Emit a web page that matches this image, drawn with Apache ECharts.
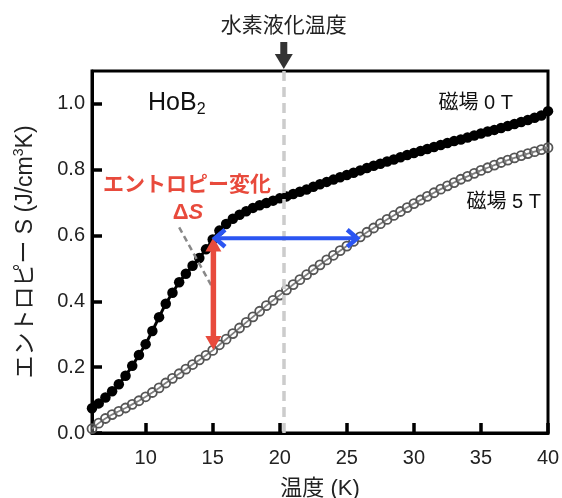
<!DOCTYPE html>
<html>
<head>
<meta charset="utf-8">
<script src="https://cdn.jsdelivr.net/npm/echarts@6/dist/echarts.min.js"></script>
<style>html,body{margin:0;padding:0;background:#fff}#c{width:562px;height:498px}</style>
</head>
<body>
<div id="c"></div>
<script>
// ---- data ----
const temps = [6.0,6.5,7.0,7.5,8.0,8.5,9.0,9.5,10.0,10.5,11.0,11.5,12.0,12.5,13.0,13.5,14.0,14.5,15.0,15.5,16.0,16.5,17.0,17.5,18.0,18.5,19.0,19.5,20.0,20.5,21.0,21.5,22.0,22.5,23.0,23.5,24.0,24.5,25.0,25.5,26.0,26.5,27.0,27.5,28.0,28.5,29.0,29.5,30.0,30.5,31.0,31.5,32.0,32.5,33.0,33.5,34.0,34.5,35.0,35.5,36.0,36.5,37.0,37.5,38.0,38.5,39.0,39.5,40.0];
const s0T = [0.075,0.090,0.108,0.127,0.148,0.174,0.204,0.237,0.270,0.310,0.352,0.393,0.426,0.458,0.484,0.508,0.532,0.558,0.588,0.615,0.635,0.651,0.663,0.674,0.684,0.692,0.699,0.706,0.713,0.719,0.726,0.733,0.740,0.748,0.756,0.763,0.770,0.777,0.784,0.791,0.798,0.805,0.812,0.818,0.825,0.831,0.838,0.845,0.851,0.857,0.863,0.869,0.875,0.881,0.887,0.892,0.898,0.904,0.910,0.916,0.921,0.927,0.933,0.939,0.945,0.951,0.958,0.965,0.978];
const s5T = [0.013,0.030,0.044,0.056,0.066,0.076,0.087,0.098,0.110,0.123,0.137,0.152,0.166,0.180,0.194,0.208,0.222,0.236,0.251,0.268,0.285,0.302,0.319,0.336,0.353,0.370,0.387,0.403,0.419,0.435,0.451,0.466,0.481,0.496,0.511,0.526,0.540,0.554,0.568,0.582,0.596,0.610,0.623,0.636,0.649,0.661,0.673,0.685,0.697,0.708,0.719,0.730,0.741,0.751,0.761,0.771,0.780,0.789,0.798,0.806,0.814,0.822,0.829,0.836,0.843,0.849,0.855,0.861,0.867];
const xTicks = [10,15,20,25,30,35,40];
const yTicks = [0,0.2,0.4,0.6,0.8,1.0];
const h2Temp = 20.3;               // hydrogen liquefaction temperature
const arrowRed = [[15.05,0.594],[15.05,0.252]];   // ΔS arrow
const arrowBlue = [[15.1,0.592],[25.85,0.592]];   // ΔT arrow
const guideLine = [[12.5,0.625],[14.9,0.448]];    // grey dashed pointer

const FONT = '"Liberation Sans","Noto Sans CJK JP",sans-serif';
const chart = echarts.init(document.getElementById('c'), null, {renderer:'canvas'});

const pair = (xs, ys) => xs.map((x,i)=>[x, ys[i]]);

chart.setOption({
  animation:false,
  backgroundColor:'#fff',
  grid:{left:92,right:14,top:71,bottom:65,outerBoundsMode:'none',containLabel:false,
        show:true,borderColor:'#000',borderWidth:3,backgroundColor:'transparent'},
  xAxis:{
    type:'value',min:6,max:40,
    name:'温度 (K)',nameLocation:'middle',nameGap:45,
    nameTextStyle:{fontFamily:FONT,fontSize:22,color:'#222'},
    axisLine:{lineStyle:{color:'#000',width:3}},
    axisTick:{inside:true,length:10,lineStyle:{color:'#000',width:3.5},customValues:xTicks},
    axisLabel:{fontFamily:FONT,fontSize:20,color:'#222',margin:15,customValues:xTicks},
    splitLine:{show:false}
  },
  yAxis:{
    type:'value',min:0,max:1.1,
    name:'{a|エントロピー S (J/cm}{s|3}{a|K)}',nameLocation:'middle',nameGap:52,nameRotate:90,
    nameTextStyle:{fontFamily:FONT,fontSize:23,color:'#222',
      rich:{a:{fontFamily:FONT,fontSize:23,color:'#222',lineHeight:28},
            s:{fontFamily:FONT,fontSize:14,color:'#222',lineHeight:14,verticalAlign:'top'}}},
    axisLine:{lineStyle:{color:'#000',width:3}},
    axisTick:{inside:true,length:10,lineStyle:{color:'#000',width:3.5},customValues:yTicks},
    axisLabel:{fontFamily:FONT,fontSize:20,color:'#222',margin:7,customValues:yTicks,formatter:v=>v.toFixed(1)},
    splitLine:{show:false}
  },
  series:[
    {type:'line',name:'guide',data:[],z:1,silent:true,
     markLine:{silent:true,symbol:['none','none'],label:{show:false},
       lineStyle:{color:'#cccccc',width:3.5,type:[10,6]},
       data:[{xAxis:h2Temp}]}},
    {type:'line',name:'5T',data:pair(temps,s5T),z:3,symbol:'circle',symbolSize:9,
     lineStyle:{color:'#555',width:1.8},
     itemStyle:{color:'rgba(255,255,255,0.25)',borderColor:'#555',borderWidth:1.8}},
    {type:'line',name:'0T',data:pair(temps,s0T),z:4,symbol:'circle',symbolSize:10.5,
     lineStyle:{color:'#000',width:3},
     itemStyle:{color:'#000'}}
  ]
});

function px(p){ return chart.convertToPixel({gridIndex:0}, p); }

const gH = px([h2Temp, 1.1]);
const r1 = px(arrowRed[0]), r2 = px(arrowRed[1]);
const b1 = px(arrowBlue[0]), b2 = px(arrowBlue[1]);
const g1 = px(guideLine[0]), g2 = px(guideLine[1]);
const RED = '#e84a3c', BLUE = '#2b55f2';
const hw = 8, hh = 14;

chart.setOption({
  graphic:[
    // title + arrow
    {type:'text',x:gH[0],y:26,z:10,style:{text:'水素液化温度',font:'21px '+FONT,fill:'#222',align:'center',verticalAlign:'middle'}},
    {type:'rect',z:10,shape:{x:gH[0]-3.5,y:42,width:7,height:13},style:{fill:'#333'}},
    {type:'polygon',z:10,shape:{points:[[gH[0]-9,54],[gH[0]+9,54],[gH[0],69]]},style:{fill:'#333'}},
    // labels
    {type:'text',x:148,y:103,z:10,style:{text:'{a|HoB}{b|2}',align:'left',verticalAlign:'middle',
      rich:{a:{font:'25px '+FONT,fill:'#111',lineHeight:30},b:{font:'16px '+FONT,fill:'#111',lineHeight:16,verticalAlign:'bottom'}}}},
    {type:'text',x:513,y:103,z:10,style:{text:'磁場 0 T',font:'20px '+FONT,fill:'#111',align:'right',verticalAlign:'middle'}},
    {type:'text',x:541,y:202,z:10,style:{text:'磁場 5 T',font:'20px '+FONT,fill:'#111',align:'right',verticalAlign:'middle'}},
    {type:'text',x:187,y:185,z:10,style:{text:'エントロピー変化',font:'bold 21px '+FONT,fill:RED,align:'center',verticalAlign:'middle'}},
    {type:'text',x:188,y:213,z:10,style:{text:'{d|Δ}{s|S}',align:'center',verticalAlign:'middle',
      rich:{d:{font:'bold 22px '+FONT,fill:RED},s:{font:'italic bold 22px '+FONT,fill:RED}}}},
    // grey dashed pointer
    {type:'line',z:5,shape:{x1:g1[0],y1:g1[1],x2:g2[0],y2:g2[1]},style:{stroke:'#888',lineWidth:2.5,lineDash:[6,4]}},
    // red double arrow
    {type:'line',z:6,shape:{x1:r1[0],y1:r1[1]+hh-1,x2:r2[0],y2:r2[1]-hh+1},style:{stroke:RED,lineWidth:5.5}},
    {type:'polygon',z:6,shape:{points:[[r1[0],r1[1]],[r1[0]-hw,r1[1]+hh],[r1[0]+hw,r1[1]+hh]]},style:{fill:RED}},
    {type:'polygon',z:6,shape:{points:[[r2[0],r2[1]],[r2[0]-hw,r2[1]-hh],[r2[0]+hw,r2[1]-hh]]},style:{fill:RED}},
    // blue double arrow
    {type:'line',z:6,shape:{x1:b1[0]+1,y1:b1[1],x2:b2[0]-1,y2:b2[1]},style:{stroke:BLUE,lineWidth:4}},
    {type:'polyline',z:6,shape:{points:[[b1[0]+11,b1[1]-8.5],[b1[0]+1,b1[1]],[b1[0]+11,b1[1]+8.5]]},style:{stroke:BLUE,lineWidth:4.5,fill:'none',lineJoin:'miter'}},
    {type:'polyline',z:6,shape:{points:[[b2[0]-11,b2[1]-8.5],[b2[0]-1,b2[1]],[b2[0]-11,b2[1]+8.5]]},style:{stroke:BLUE,lineWidth:4.5,fill:'none',lineJoin:'miter'}}
  ]
});
</script>
</body>
</html>
